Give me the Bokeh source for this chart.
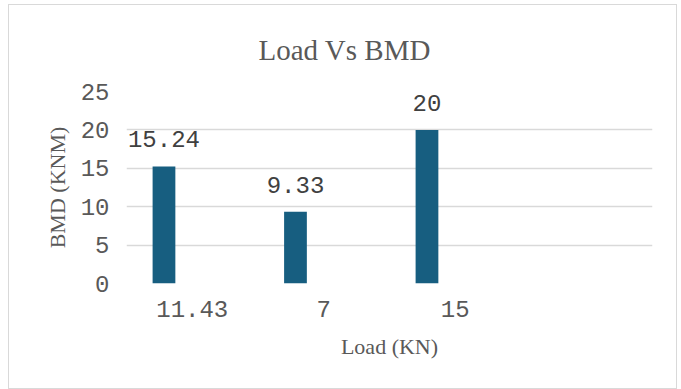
from bokeh.plotting import figure
from bokeh.models import ColumnDataSource, FactorRange, Range1d, LabelSet, Title, FixedTicker
from bokeh.transform import dodge
from bokeh.core.properties import value
from bokeh.embed import file_html
from bokeh.resources import INLINE

title_text = "Load Vs BMD"
loads = ["11.43", "7", "15", " "]
bmd_loads = ["11.43", "7", "15"]
bmd_values = [15.24, 9.33, 20]
bmd_labels = ["15.24", "9.33", "20"]
y_ticks = [0, 5, 10, 15, 20, 25]

src = ColumnDataSource(data=dict(load=bmd_loads, bmd=bmd_values, label=bmd_labels))

p = figure(width=669, height=385, x_range=FactorRange(factors=loads, range_padding=0),
           y_range=Range1d(0, 25), output_backend="svg", toolbar_location=None,
           min_border_left=117, min_border_right=26, min_border_top=86, min_border_bottom=107)

p.vbar(x=dodge("load", -0.215, range=p.x_range), top="bmd", width=0.173, source=src,
       fill_color="#175E80", line_color=None)

labels = LabelSet(x=dodge("load", -0.215, range=p.x_range), y="bmd", text="label", source=src,
                  text_align="center", text_baseline="bottom", y_offset=19,
                  text_font=value("Liberation Mono"), text_font_size="24px", text_color="#404040")
p.add_layout(labels)

p.title = Title(text=title_text, text_font="Liberation Serif", text_font_size="29px",
                text_font_style="normal", text_color="#595959", align="left", offset=132,
                standoff=52)

p.yaxis.ticker = FixedTicker(ticks=y_ticks)
p.ygrid.ticker = FixedTicker(ticks=y_ticks)
for ax in (p.xaxis[0], p.yaxis[0]):
    ax.axis_line_color = None
    ax.major_tick_line_color = None
    ax.minor_tick_line_color = None
    ax.major_label_text_font = "Liberation Mono"
    ax.major_label_text_font_size = "24px"
    ax.major_label_text_color = "#595959"
    ax.axis_label_text_font = "Liberation Serif"
    ax.axis_label_text_font_size = "22px"
    ax.axis_label_text_font_style = "normal"
    ax.axis_label_text_color = "#595959"

p.xaxis.axis_label = "Load (KN)"
p.yaxis.axis_label = "BMD (KNM)"
p.xaxis.major_label_standoff = 7
p.xaxis.axis_label_standoff = 7
p.yaxis.major_label_standoff = 11
p.yaxis.axis_label_standoff = 8

p.xgrid.grid_line_color = None
p.ygrid.grid_line_color = "#D9D9D9"
p.ygrid.grid_line_width = 1.5
p.outline_line_color = None
p.background_fill_color = "white"
p.border_fill_color = "white"
p.styles = {"border": "1.5px solid #D9D9D9", "margin-left": "8px", "margin-top": "4px"}

open("out.html", "w").write(file_html(p, INLINE))
